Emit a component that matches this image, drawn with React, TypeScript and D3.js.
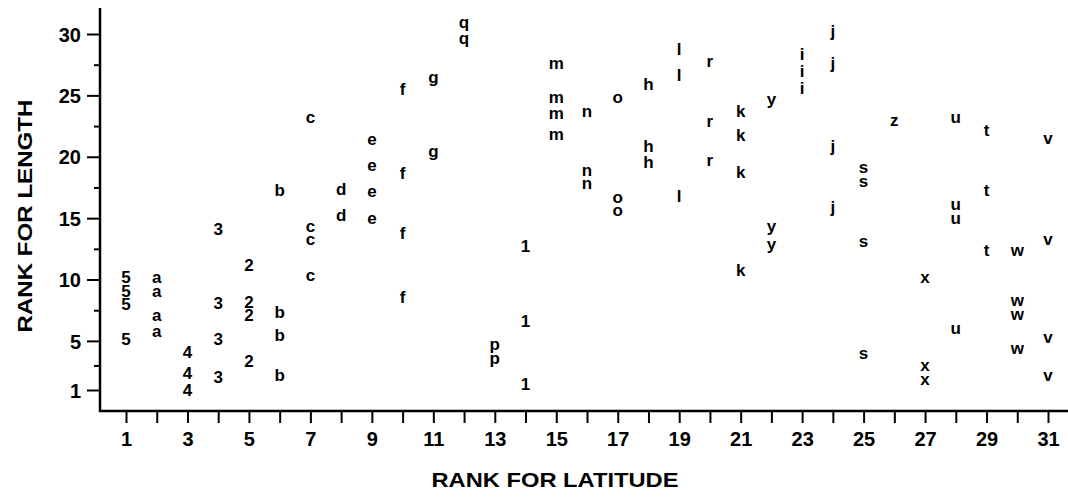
import React from 'react';
import * as d3 from 'd3';

// symbol plotted at each latitude rank, with its rank(s) for length
const symbols = ['5', 'a', '4', '3', '2', 'b', 'c', 'd', 'e', 'f', 'g', 'q', 'p', '1', 'm', 'n',
  'o', 'h', 'l', 'r', 'k', 'y', 'i', 'j', 's', 'z', 'x', 'u', 't', 'w', 'v'];
const latitudeRank = d3.range(1, 32);
const lengthRanks = [
  [10.2, 9.1, 8.0, 5.2],
  [10.1, 8.9, 7.0, 5.7],
  [4.1, 2.4, 1.0],
  [14.1, 8.1, 5.2, 2.1],
  [11.2, 8.2, 7.1, 3.4],
  [17.3, 7.4, 5.5, 2.2],
  [23.1, 14.2, 13.2, 10.2],
  [17.4, 15.3],
  [21.3, 19.2, 17.1, 14.9],
  [25.5, 18.7, 13.8, 8.6],
  [26.2, 20.2],
  [30.7, 29.4],
  [4.5, 3.3],
  [12.7, 6.6, 1.5],
  [27.5, 24.7, 23.4, 21.7],
  [23.6, 18.8, 17.7],
  [24.7, 16.6, 15.5],
  [25.9, 20.9, 19.6],
  [28.8, 26.7, 16.8],
  [27.7, 22.8, 19.6],
  [23.7, 21.8, 18.8, 10.8],
  [24.4, 14.1, 12.6],
  [28.4, 27.0, 25.6],
  [30.1, 27.5, 20.7, 15.8],
  [19.0, 17.9, 13.0, 3.9],
  [22.9],
  [10.1, 2.9, 1.8],
  [23.1, 16.0, 14.9, 5.9],
  [22.1, 17.2, 12.3],
  [12.3, 8.2, 7.1, 4.3],
  [21.4, 13.2, 5.2, 2.1],
];
const yTicks = [1, 5, 10, 15, 20, 25, 30];
const yMinorTicks = [3, 7.5, 12.5, 17.5, 22.5, 27.5];
const xTitle = 'RANK FOR LATITUDE';
const yTitle = 'RANK FOR LENGTH';

const FONT = '"Liberation Sans", Arial, Helvetica, sans-serif';

// shift from visual centre to baseline, by glyph shape
function baselineShift(s: string) {
  if ('gpqy'.includes(s)) return 2.6;
  if (s === 'j') return 4.3;
  if (s === 't') return 5.2;
  if ('aceomnrsuvwxz'.includes(s)) return 4.4;
  return 6.1;
}

export default function App() {
  const ref = React.useRef<SVGSVGElement>(null);

  React.useEffect(() => {
    const width = 1068;
    const height = 497;
    const axisY = 411;
    const axisX = 100;

    const svg = d3.select(ref.current);
    svg.selectAll('*').remove();
    svg.attr('width', width).attr('height', height);

    const x = d3.scaleLinear().domain([1, 31]).range([126, 1048]);
    const y = d3.scaleLinear().domain([1, 30]).range([390, 34]);

    // axis lines
    svg.append('line')
      .attr('x1', axisX).attr('x2', axisX).attr('y1', 8).attr('y2', axisY + 1)
      .attr('stroke', '#000').attr('stroke-width', 2.5);
    svg.append('line')
      .attr('x1', axisX - 1).attr('x2', width).attr('y1', axisY).attr('y2', axisY)
      .attr('stroke', '#000').attr('stroke-width', 2.5);

    // y axis
    const gy = svg.append('g')
      .attr('transform', `translate(${axisX},0)`)
      .call(d3.axisLeft(y).tickValues(yTicks).tickSize(13).tickPadding(6));
    svg.append('g')
      .attr('transform', `translate(${axisX},0)`)
      .call(d3.axisLeft(y).tickValues(yMinorTicks).tickSize(6).tickFormat(() => ''));

    // x axis
    const gx = svg.append('g')
      .attr('transform', `translate(0,${axisY})`)
      .call(d3.axisBottom(x).tickValues(latitudeRank).tickSize(12).tickPadding(9)
        .tickFormat(d => (+d % 2 === 1 ? String(d) : '')));

    svg.selectAll('.domain').remove();
    svg.selectAll('.tick line').attr('stroke', '#000').attr('stroke-width', 2);
    [gx, gy].forEach(g => g.selectAll('.tick text')
      .attr('fill', '#000')
      .style('font-family', FONT)
      .style('font-weight', 'bold')
      .style('font-size', '20px'));
    gy.selectAll('.tick text').attr('dy', '0.36em');

    // symbols
    const points = symbols.flatMap((s, i) =>
      lengthRanks[i].map(v => ({ s, lat: latitudeRank[i], len: v })));

    svg.append('g')
      .selectAll('text')
      .data(points)
      .enter()
      .append('text')
      .attr('x', d => x(d.lat))
      .attr('y', d => y(d.len) + baselineShift(d.s))
      .attr('text-anchor', 'middle')
      .style('font-family', FONT)
      .style('font-weight', 'bold')
      .style('font-size', '17px')
      .text(d => d.s);

    // titles
    svg.append('text')
      .attr('x', 555).attr('y', 487)
      .attr('text-anchor', 'middle')
      .attr('textLength', 247)
      .attr('lengthAdjust', 'spacingAndGlyphs')
      .style('font-family', FONT)
      .style('font-weight', 'bold')
      .style('font-size', '21px')
      .text(xTitle);

    svg.append('text')
      .attr('transform', 'translate(32,216) rotate(-90)')
      .attr('text-anchor', 'middle')
      .attr('textLength', 233)
      .attr('lengthAdjust', 'spacingAndGlyphs')
      .style('font-family', FONT)
      .style('font-weight', 'bold')
      .style('font-size', '21px')
      .text(yTitle);
  }, []);

  return <svg ref={ref} style={{ position: 'absolute', left: 0, top: 0, background: '#fff' }} />;
}
